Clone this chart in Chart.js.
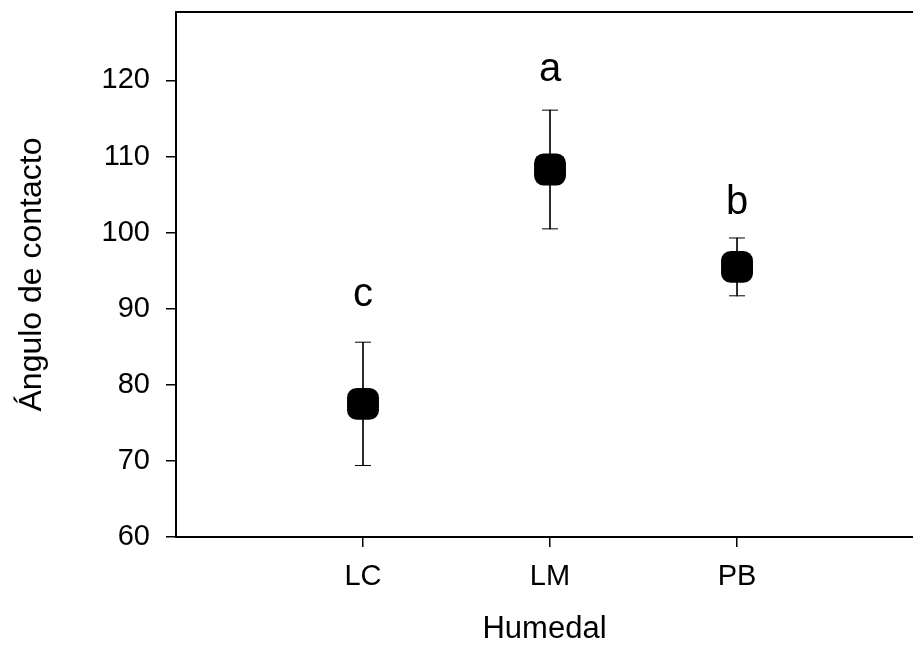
<!DOCTYPE html>
<html>
<head>
<meta charset="utf-8">
<script src="https://cdn.jsdelivr.net/npm/chart.js"></script>
<style>
  body { margin: 0; background: #fff; }
</style>
</head>
<body>
<canvas id="myChart" width="913" height="645"></canvas>
<script>
const categories = ['LC', 'LM', 'PB'];
const means = [77.5, 108.3, 95.5];
const errors = [8.1, 7.8, 3.8];
const letters = ['c', 'a', 'b'];
const letterY = [90.4, 119.9, 102.4];
const yTicks = [60, 70, 80, 90, 100, 110, 120];

const fontName = '"Liberation Sans", Arial, sans-serif';
const xMax = 3.941;

const meanPoints = means.map((m, i) => ({ x: i + 1, y: m }));
const errRanges = means.map((m, i) => ({ x: i + 1, y: [m - errors[i], m + errors[i]] }));
const capPoints = [];
means.forEach((m, i) => {
  capPoints.push({ x: i + 1, y: m + errors[i] });
  capPoints.push({ x: i + 1, y: m - errors[i] });
});

// letters above each error bar
const letterPlugin = {
  id: 'letters',
  afterDatasetsDraw(chart) {
    const ctx = chart.ctx;
    const xs = chart.scales.x;
    const ys = chart.scales.y;
    ctx.save();
    ctx.fillStyle = '#000';
    ctx.font = '40px ' + fontName;
    ctx.textAlign = 'center';
    ctx.textBaseline = 'alphabetic';
    letters.forEach((l, i) => {
      ctx.fillText(l, xs.getPixelForValue(i + 1), ys.getPixelForValue(letterY[i]));
    });
    ctx.restore();
  }
};

function noPad(scale) {
  scale.paddingTop = 0;
  scale.paddingBottom = 0;
  scale.paddingLeft = 0;
  scale.paddingRight = 0;
}

const ctx = document.getElementById('myChart');
const chart = new Chart(ctx, {
  type: 'scatter',
  data: {
    datasets: [
      {
        label: 'mean',
        data: meanPoints,
        pointStyle: 'rectRounded',
        pointRadius: 18.6,
        pointHoverRadius: 18.6,
        backgroundColor: '#000',
        borderColor: '#000',
        borderWidth: 0,
        order: 0
      },
      {
        label: 'caps',
        data: capPoints,
        pointStyle: 'line',
        pointRadius: 8,
        pointHoverRadius: 8,
        borderColor: '#000',
        borderWidth: 1,
        order: 1
      },
      {
        type: 'bar',
        label: 'err',
        data: errRanges,
        barThickness: 1,
        backgroundColor: '#000',
        borderWidth: 0,
        grouped: false,
        order: 2
      }
    ]
  },
  options: {
    responsive: false,
    animation: false,
    layout: { autoPadding: false, padding: { top: 12, left: 0, right: 0, bottom: 0 } },
    plugins: {
      legend: { display: false },
      tooltip: { enabled: false }
    },
    scales: {
      x: {
        type: 'linear',
        position: 'bottom',
        min: 0,
        max: xMax,
        offset: false,
        afterBuildTicks: (scale) => {
          scale.ticks = categories.map((c, i) => ({ value: i + 1 }));
        },
        afterFit: (scale) => { scale.height = 108; noPad(scale); },
        ticks: {
          callback: (v) => categories[v - 1],
          color: '#000',
          padding: 13,
          maxRotation: 0,
          font: { family: fontName, size: 29 }
        },
        grid: {
          offset: false,
          drawOnChartArea: false,
          drawTicks: true,
          tickLength: 10,
          color: '#000',
          lineWidth: 1.5
        },
        border: { display: true, color: '#000', width: 2 },
        title: {
          display: true,
          text: 'Humedal',
          color: '#000',
          font: { family: fontName, size: 31, lineHeight: 1 },
          padding: { top: 0, bottom: 0 }
        }
      },
      xTop: {
        type: 'linear',
        position: 'top',
        min: 0,
        max: xMax,
        offset: false,
        afterFit: (scale) => { scale.height = 0; noPad(scale); },
        ticks: { display: false },
        grid: { offset: false, drawOnChartArea: false, drawTicks: false },
        border: { display: true, color: '#000', width: 2 }
      },
      y: {
        min: 60,
        max: 129,
        afterBuildTicks: (scale) => {
          scale.ticks = yTicks.map(v => ({ value: v }));
        },
        afterFit: (scale) => { scale.width = 176; noPad(scale); },
        ticks: {
          color: '#000',
          padding: 16,
          font: { family: fontName, size: 29 }
        },
        grid: {
          drawOnChartArea: false,
          drawTicks: true,
          tickLength: 10,
          color: '#000',
          lineWidth: 1.5
        },
        border: { display: true, color: '#000', width: 2 },
        title: {
          display: true,
          text: 'Ángulo de contacto',
          color: '#000',
          font: { family: fontName, size: 32, lineHeight: 1 },
          padding: { top: 16, bottom: 0 }
        }
      }
    }
  },
  plugins: [letterPlugin]
});
</script>
</body>
</html>
